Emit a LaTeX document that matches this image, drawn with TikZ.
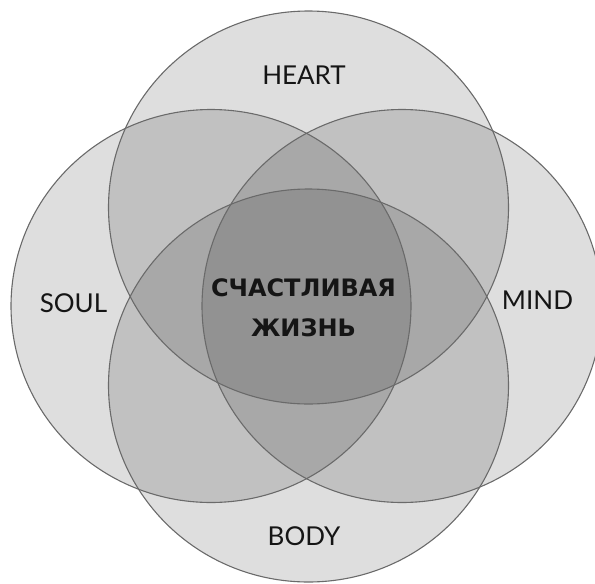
\documentclass[tikz,border=0pt]{standalone}
\usepackage{fontspec}
\setmainfont{Lato}
\newfontfamily\corefont{DejaVu Sans}
\definecolor{ink}{HTML}{151515}
\definecolor{rimgray}{HTML}{6A6A6A}
\definecolor{shade}{HTML}{000000}

\begin{document}
\begin{tikzpicture}[
  x=1pt, y=-1pt,
  ring/.style={fill=shade, fill opacity=.13},
  rim/.style={draw=rimgray, line width=1.1pt},
  lbl/.style={font=\fontsize{26}{28}\selectfont, text=ink, inner sep=0pt},
  core/.style={font=\corefont\bfseries\fontsize{24}{40.5}\selectfont, text=ink,
               align=center, inner sep=0pt},
]
\useasboundingbox (0,0) rectangle (595,584);

%% ================= the four rings =================
\foreach \cx/\cy in {308.5/207.5, 211/306, 402/306, 308.5/385.5}
  \fill[ring] (\cx,\cy) ellipse[x radius=200pt, y radius=196.5pt];
\foreach \cx/\cy in {308.5/207.5, 211/306, 402/306, 308.5/385.5}
  \draw[rim] (\cx,\cy) ellipse[x radius=200pt, y radius=196.5pt];

%% ================= labels =================
\node[lbl] (heart) at (304,75.5) {HEART};
\node[lbl] (soul)  at (73.5,303) {SOUL};
\node[lbl] (mind)  at (537.5,300) {MIND};
\node[lbl] (body)  at (304,536.5) {BODY};
\node[core] (life) at (303.5,308) {СЧАСТЛИВАЯ\\ЖИЗНЬ};

\end{tikzpicture}
\end{document}
